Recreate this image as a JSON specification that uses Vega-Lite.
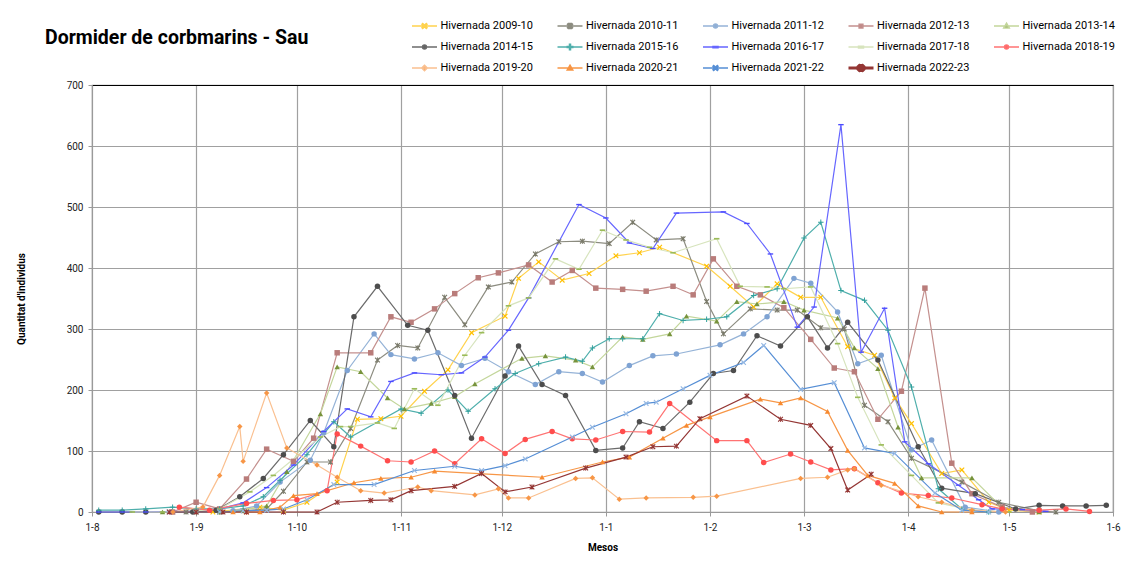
{
"$schema": "https://vega.github.io/schema/vega-lite/v6.json",
"width": 1021, "height": 427,
"autosize": {"type": "none"},
"padding": {"left": 92, "top": 85, "right": 12, "bottom": 51},
"background": "white",
"title": {"text": "Dormider de corbmarins - Sau", "anchor": "start", "frame": "group", "dx": -47, "offset": 0, "dy": 45, "font": "Roboto", "fontSize": 19.5, "fontWeight": "bold", "color": "#000", "baseline": "alphabetic"},
"config": {
  "view": {"stroke": "#9a9a9a", "strokeWidth": 1.2},
  "axis": {"gridColor": "#a0a0a0", "gridWidth": 1.2, "domainColor": "#9a9a9a", "tickColor": "#9a9a9a", "labelFont": "Roboto", "labelFontSize": 10, "labelColor": "#222", "titleFont": "Roboto", "titleFontSize": 10, "titleFontWeight": "bold", "titleColor": "#000"}
},
"data": {"values": [
{"s":"2009-10","d":"2000-09-06","v":0},{"s":"2009-10","d":"2000-09-20","v":8},{"s":"2009-10","d":"2000-09-27","v":3},{"s":"2009-10","d":"2000-10-04","v":16},{"s":"2009-10","d":"2000-10-13","v":49},{"s":"2009-10","d":"2000-10-19","v":152},{"s":"2009-10","d":"2000-10-26","v":153},{"s":"2009-10","d":"2000-11-01","v":157},{"s":"2009-10","d":"2000-11-08","v":198},{"s":"2009-10","d":"2000-11-15","v":233},{"s":"2009-10","d":"2000-11-22","v":294},{"s":"2009-10","d":"2000-12-02","v":321},{"s":"2009-10","d":"2000-12-06","v":383},{"s":"2009-10","d":"2000-12-12","v":410},{"s":"2009-10","d":"2000-12-19","v":380},{"s":"2009-10","d":"2000-12-27","v":391},{"s":"2009-10","d":"2001-01-04","v":420},{"s":"2009-10","d":"2001-01-11","v":425},{"s":"2009-10","d":"2001-01-17","v":434},{"s":"2009-10","d":"2001-01-31","v":403},{"s":"2009-10","d":"2001-02-07","v":370},{"s":"2009-10","d":"2001-02-14","v":336},{"s":"2009-10","d":"2001-02-21","v":374},{"s":"2009-10","d":"2001-02-28","v":352},{"s":"2009-10","d":"2001-03-06","v":352},{"s":"2009-10","d":"2001-03-14","v":271},{"s":"2009-10","d":"2001-03-22","v":257},{"s":"2009-10","d":"2001-03-28","v":187},{"s":"2009-10","d":"2001-04-02","v":145},{"s":"2009-10","d":"2001-04-11","v":63},{"s":"2009-10","d":"2001-04-17","v":69},{"s":"2009-10","d":"2001-04-25","v":16},{"s":"2009-10","d":"2001-05-01","v":3},{"s":"2009-10","d":"2001-05-10","v":0},
{"s":"2010-11","d":"2000-08-29","v":0},{"s":"2010-11","d":"2000-09-08","v":0},{"s":"2010-11","d":"2000-09-15","v":2},{"s":"2010-11","d":"2000-09-22","v":5},{"s":"2010-11","d":"2000-09-27","v":34},{"s":"2010-11","d":"2000-10-04","v":82},{"s":"2010-11","d":"2000-10-11","v":82},{"s":"2010-11","d":"2000-10-17","v":137},{"s":"2010-11","d":"2000-10-25","v":249},{"s":"2010-11","d":"2000-10-31","v":273},{"s":"2010-11","d":"2000-11-06","v":269},{"s":"2010-11","d":"2000-11-14","v":352},{"s":"2010-11","d":"2000-11-20","v":307},{"s":"2010-11","d":"2000-11-27","v":369},{"s":"2010-11","d":"2000-12-04","v":377},{"s":"2010-11","d":"2000-12-11","v":423},{"s":"2010-11","d":"2000-12-18","v":443},{"s":"2010-11","d":"2000-12-25","v":444},{"s":"2010-11","d":"2001-01-02","v":440},{"s":"2010-11","d":"2001-01-09","v":475},{"s":"2010-11","d":"2001-01-16","v":446},{"s":"2010-11","d":"2001-01-24","v":448},{"s":"2010-11","d":"2001-01-31","v":345},{"s":"2010-11","d":"2001-02-05","v":292},{"s":"2010-11","d":"2001-02-13","v":333},{"s":"2010-11","d":"2001-02-21","v":331},{"s":"2010-11","d":"2001-02-27","v":331},{"s":"2010-11","d":"2001-03-06","v":302},{"s":"2010-11","d":"2001-03-13","v":300},{"s":"2010-11","d":"2001-03-19","v":175},{"s":"2010-11","d":"2001-03-26","v":148},{"s":"2010-11","d":"2001-04-02","v":88},{"s":"2010-11","d":"2001-04-17","v":49},{"s":"2010-11","d":"2001-04-28","v":16},{"s":"2010-11","d":"2001-05-10","v":2},{"s":"2010-11","d":"2001-05-15","v":0},
{"s":"2011-12","d":"2000-09-12","v":2},{"s":"2011-12","d":"2000-09-19","v":10},{"s":"2011-12","d":"2000-09-26","v":49},{"s":"2011-12","d":"2000-10-05","v":85},{"s":"2011-12","d":"2000-10-09","v":130},{"s":"2011-12","d":"2000-10-16","v":232},{"s":"2011-12","d":"2000-10-24","v":292},{"s":"2011-12","d":"2000-10-29","v":258},{"s":"2011-12","d":"2000-11-05","v":251},{"s":"2011-12","d":"2000-11-12","v":261},{"s":"2011-12","d":"2000-11-19","v":240},{"s":"2011-12","d":"2000-11-26","v":252},{"s":"2011-12","d":"2000-12-03","v":230},{"s":"2011-12","d":"2000-12-11","v":209},{"s":"2011-12","d":"2000-12-18","v":230},{"s":"2011-12","d":"2000-12-25","v":227},{"s":"2011-12","d":"2000-12-31","v":213},{"s":"2011-12","d":"2001-01-08","v":240},{"s":"2011-12","d":"2001-01-15","v":256},{"s":"2011-12","d":"2001-01-22","v":259},{"s":"2011-12","d":"2001-02-04","v":274},{"s":"2011-12","d":"2001-02-11","v":292},{"s":"2011-12","d":"2001-02-18","v":320},{"s":"2011-12","d":"2001-02-26","v":383},{"s":"2011-12","d":"2001-03-03","v":375},{"s":"2011-12","d":"2001-03-11","v":328},{"s":"2011-12","d":"2001-03-17","v":243},{"s":"2011-12","d":"2001-03-24","v":257},{"s":"2011-12","d":"2001-04-02","v":102},{"s":"2011-12","d":"2001-04-08","v":118},{"s":"2011-12","d":"2001-04-18","v":8},{"s":"2011-12","d":"2001-04-28","v":0},
{"s":"2012-13","d":"2000-08-25","v":0},{"s":"2012-13","d":"2000-09-01","v":16},{"s":"2012-13","d":"2000-09-08","v":5},{"s":"2012-13","d":"2000-09-16","v":54},{"s":"2012-13","d":"2000-09-22","v":103},{"s":"2012-13","d":"2000-09-30","v":83},{"s":"2012-13","d":"2000-10-06","v":121},{"s":"2012-13","d":"2000-10-13","v":261},{"s":"2012-13","d":"2000-10-23","v":261},{"s":"2012-13","d":"2000-10-29","v":320},{"s":"2012-13","d":"2000-11-04","v":311},{"s":"2012-13","d":"2000-11-11","v":333},{"s":"2012-13","d":"2000-11-17","v":358},{"s":"2012-13","d":"2000-11-24","v":384},{"s":"2012-13","d":"2000-11-30","v":392},{"s":"2012-13","d":"2000-12-09","v":405},{"s":"2012-13","d":"2000-12-16","v":377},{"s":"2012-13","d":"2000-12-22","v":396},{"s":"2012-13","d":"2000-12-29","v":367},{"s":"2012-13","d":"2001-01-06","v":365},{"s":"2012-13","d":"2001-01-13","v":362},{"s":"2012-13","d":"2001-01-21","v":370},{"s":"2012-13","d":"2001-01-27","v":356},{"s":"2012-13","d":"2001-02-02","v":415},{"s":"2012-13","d":"2001-02-09","v":370},{"s":"2012-13","d":"2001-02-16","v":356},{"s":"2012-13","d":"2001-02-23","v":335},{"s":"2012-13","d":"2001-03-03","v":283},{"s":"2012-13","d":"2001-03-10","v":236},{"s":"2012-13","d":"2001-03-16","v":230},{"s":"2012-13","d":"2001-03-23","v":152},{"s":"2012-13","d":"2001-03-30","v":198},{"s":"2012-13","d":"2001-04-06","v":367},{"s":"2012-13","d":"2001-04-14","v":80},{"s":"2012-13","d":"2001-04-20","v":30},{"s":"2012-13","d":"2001-04-29","v":8},{"s":"2012-13","d":"2001-05-08","v":0},
{"s":"2013-14","d":"2000-08-22","v":0},{"s":"2013-14","d":"2000-09-01","v":0},{"s":"2013-14","d":"2000-09-08","v":0},{"s":"2013-14","d":"2000-09-15","v":3},{"s":"2013-14","d":"2000-09-22","v":10},{"s":"2013-14","d":"2000-09-28","v":66},{"s":"2013-14","d":"2000-10-08","v":161},{"s":"2013-14","d":"2000-10-13","v":238},{"s":"2013-14","d":"2000-10-20","v":230},{"s":"2013-14","d":"2000-10-28","v":187},{"s":"2013-14","d":"2000-11-02","v":169},{"s":"2013-14","d":"2000-11-10","v":178},{"s":"2013-14","d":"2000-11-17","v":189},{"s":"2013-14","d":"2000-11-23","v":210},{"s":"2013-14","d":"2000-12-07","v":252},{"s":"2013-14","d":"2000-12-14","v":256},{"s":"2013-14","d":"2000-12-23","v":249},{"s":"2013-14","d":"2000-12-28","v":238},{"s":"2013-14","d":"2001-01-06","v":287},{"s":"2013-14","d":"2001-01-12","v":283},{"s":"2013-14","d":"2001-01-20","v":292},{"s":"2013-14","d":"2001-01-25","v":321},{"s":"2013-14","d":"2001-02-03","v":313},{"s":"2013-14","d":"2001-02-09","v":345},{"s":"2013-14","d":"2001-02-15","v":341},{"s":"2013-14","d":"2001-02-23","v":345},{"s":"2013-14","d":"2001-03-01","v":331},{"s":"2013-14","d":"2001-03-11","v":318},{"s":"2013-14","d":"2001-03-16","v":269},{"s":"2013-14","d":"2001-03-23","v":235},{"s":"2013-14","d":"2001-03-29","v":139},{"s":"2013-14","d":"2001-04-05","v":56},{"s":"2013-14","d":"2001-04-20","v":56},{"s":"2013-14","d":"2001-04-29","v":7},{"s":"2013-14","d":"2001-05-10","v":0},
{"s":"2014-15","d":"2000-08-03","v":0},{"s":"2014-15","d":"2000-08-10","v":0},{"s":"2014-15","d":"2000-08-17","v":0},{"s":"2014-15","d":"2000-08-31","v":0},{"s":"2014-15","d":"2000-09-07","v":3},{"s":"2014-15","d":"2000-09-14","v":25},{"s":"2014-15","d":"2000-09-21","v":55},{"s":"2014-15","d":"2000-09-27","v":94},{"s":"2014-15","d":"2000-10-05","v":150},{"s":"2014-15","d":"2000-10-12","v":107},{"s":"2014-15","d":"2000-10-18","v":320},{"s":"2014-15","d":"2000-10-25","v":370},{"s":"2014-15","d":"2000-11-03","v":306},{"s":"2014-15","d":"2000-11-09","v":298},{"s":"2014-15","d":"2000-11-17","v":191},{"s":"2014-15","d":"2000-11-22","v":121},{"s":"2014-15","d":"2000-12-02","v":223},{"s":"2014-15","d":"2000-12-06","v":272},{"s":"2014-15","d":"2000-12-13","v":209},{"s":"2014-15","d":"2000-12-20","v":191},{"s":"2014-15","d":"2000-12-29","v":101},{"s":"2014-15","d":"2001-01-06","v":105},{"s":"2014-15","d":"2001-01-11","v":148},{"s":"2014-15","d":"2001-01-18","v":137},{"s":"2014-15","d":"2001-01-26","v":180},{"s":"2014-15","d":"2001-02-02","v":227},{"s":"2014-15","d":"2001-02-08","v":232},{"s":"2014-15","d":"2001-02-15","v":289},{"s":"2014-15","d":"2001-02-22","v":272},{"s":"2014-15","d":"2001-03-02","v":320},{"s":"2014-15","d":"2001-03-08","v":269},{"s":"2014-15","d":"2001-03-14","v":311},{"s":"2014-15","d":"2001-03-23","v":249},{"s":"2014-15","d":"2001-04-04","v":107},{"s":"2014-15","d":"2001-04-11","v":39},{"s":"2014-15","d":"2001-04-21","v":30},{"s":"2014-15","d":"2001-05-03","v":5},{"s":"2014-15","d":"2001-05-10","v":11},{"s":"2014-15","d":"2001-05-17","v":10},{"s":"2014-15","d":"2001-05-24","v":10},{"s":"2014-15","d":"2001-05-30","v":11},
{"s":"2015-16","d":"2000-08-03","v":3},{"s":"2015-16","d":"2000-08-10","v":3},{"s":"2015-16","d":"2000-08-17","v":5},{"s":"2015-16","d":"2000-08-25","v":8},{"s":"2015-16","d":"2000-09-01","v":5},{"s":"2015-16","d":"2000-09-08","v":5},{"s":"2015-16","d":"2000-09-15","v":10},{"s":"2015-16","d":"2000-09-21","v":25},{"s":"2015-16","d":"2000-09-26","v":52},{"s":"2015-16","d":"2000-10-04","v":94},{"s":"2015-16","d":"2000-10-12","v":148},{"s":"2015-16","d":"2000-10-17","v":123},{"s":"2015-16","d":"2000-11-01","v":169},{"s":"2015-16","d":"2000-11-07","v":162},{"s":"2015-16","d":"2000-11-15","v":200},{"s":"2015-16","d":"2000-11-21","v":165},{"s":"2015-16","d":"2000-11-29","v":202},{"s":"2015-16","d":"2000-12-05","v":227},{"s":"2015-16","d":"2000-12-12","v":243},{"s":"2015-16","d":"2000-12-20","v":254},{"s":"2015-16","d":"2000-12-25","v":247},{"s":"2015-16","d":"2000-12-28","v":269},{"s":"2015-16","d":"2001-01-02","v":284},{"s":"2015-16","d":"2001-01-06","v":284},{"s":"2015-16","d":"2001-01-12","v":284},{"s":"2015-16","d":"2001-01-17","v":325},{"s":"2015-16","d":"2001-01-24","v":314},{"s":"2015-16","d":"2001-01-31","v":316},{"s":"2015-16","d":"2001-02-06","v":320},{"s":"2015-16","d":"2001-02-14","v":355},{"s":"2015-16","d":"2001-02-21","v":366},{"s":"2015-16","d":"2001-03-01","v":449},{"s":"2015-16","d":"2001-03-06","v":475},{"s":"2015-16","d":"2001-03-12","v":363},{"s":"2015-16","d":"2001-03-19","v":347},{"s":"2015-16","d":"2001-03-26","v":298},{"s":"2015-16","d":"2001-04-02","v":205},{"s":"2015-16","d":"2001-04-10","v":38},{"s":"2015-16","d":"2001-04-17","v":5},{"s":"2015-16","d":"2001-04-25","v":0},
{"s":"2016-17","d":"2000-08-03","v":0},{"s":"2016-17","d":"2000-08-10","v":0},{"s":"2016-17","d":"2000-08-17","v":0},{"s":"2016-17","d":"2000-09-01","v":2},{"s":"2016-17","d":"2000-09-08","v":5},{"s":"2016-17","d":"2000-09-15","v":15},{"s":"2016-17","d":"2000-09-22","v":40},{"s":"2016-17","d":"2000-09-30","v":77},{"s":"2016-17","d":"2000-10-09","v":132},{"s":"2016-17","d":"2000-10-16","v":169},{"s":"2016-17","d":"2000-10-23","v":156},{"s":"2016-17","d":"2000-10-29","v":214},{"s":"2016-17","d":"2000-11-05","v":228},{"s":"2016-17","d":"2000-11-13","v":225},{"s":"2016-17","d":"2000-11-19","v":228},{"s":"2016-17","d":"2000-11-26","v":254},{"s":"2016-17","d":"2000-12-03","v":298},{"s":"2016-17","d":"2000-12-09","v":351},{"s":"2016-17","d":"2000-12-24","v":504},{"s":"2016-17","d":"2001-01-01","v":482},{"s":"2016-17","d":"2001-01-08","v":441},{"s":"2016-17","d":"2001-01-15","v":432},{"s":"2016-17","d":"2001-01-22","v":490},{"s":"2016-17","d":"2001-02-05","v":492},{"s":"2016-17","d":"2001-02-12","v":473},{"s":"2016-17","d":"2001-02-19","v":423},{"s":"2016-17","d":"2001-02-27","v":303},{"s":"2016-17","d":"2001-03-04","v":336},{"s":"2016-17","d":"2001-03-12","v":635},{"s":"2016-17","d":"2001-03-18","v":262},{"s":"2016-17","d":"2001-03-25","v":334},{"s":"2016-17","d":"2001-03-31","v":115},{"s":"2016-17","d":"2001-04-07","v":79},{"s":"2016-17","d":"2001-04-16","v":44},{"s":"2016-17","d":"2001-04-22","v":20},{"s":"2016-17","d":"2001-04-26","v":5},{"s":"2016-17","d":"2001-05-05","v":4},{"s":"2016-17","d":"2001-05-12","v":1},
{"s":"2017-18","d":"2000-08-13","v":0},{"s":"2017-18","d":"2000-08-22","v":0},{"s":"2017-18","d":"2000-09-01","v":2},{"s":"2017-18","d":"2000-09-08","v":5},{"s":"2017-18","d":"2000-09-17","v":33},{"s":"2017-18","d":"2000-09-24","v":60},{"s":"2017-18","d":"2000-10-08","v":123},{"s":"2017-18","d":"2000-10-14","v":140},{"s":"2017-18","d":"2000-10-17","v":140},{"s":"2017-18","d":"2000-10-25","v":146},{"s":"2017-18","d":"2000-10-30","v":137},{"s":"2017-18","d":"2000-11-05","v":202},{"s":"2017-18","d":"2000-11-12","v":175},{"s":"2017-18","d":"2000-11-20","v":257},{"s":"2017-18","d":"2000-11-25","v":294},{"s":"2017-18","d":"2000-12-03","v":338},{"s":"2017-18","d":"2000-12-09","v":351},{"s":"2017-18","d":"2000-12-17","v":415},{"s":"2017-18","d":"2000-12-24","v":398},{"s":"2017-18","d":"2000-12-31","v":462},{"s":"2017-18","d":"2001-01-07","v":446},{"s":"2017-18","d":"2001-01-14","v":434},{"s":"2017-18","d":"2001-01-21","v":425},{"s":"2017-18","d":"2001-02-03","v":448},{"s":"2017-18","d":"2001-02-10","v":370},{"s":"2017-18","d":"2001-02-18","v":369},{"s":"2017-18","d":"2001-02-23","v":366},{"s":"2017-18","d":"2001-03-03","v":369},{"s":"2017-18","d":"2001-03-11","v":276},{"s":"2017-18","d":"2001-03-17","v":188},{"s":"2017-18","d":"2001-03-24","v":110},{"s":"2017-18","d":"2001-04-02","v":60},{"s":"2017-18","d":"2001-04-10","v":15},{"s":"2017-18","d":"2001-04-20","v":3},{"s":"2017-18","d":"2001-05-01","v":0},
{"s":"2018-19","d":"2000-08-27","v":8},{"s":"2018-19","d":"2000-09-05","v":3},{"s":"2018-19","d":"2000-09-16","v":14},{"s":"2018-19","d":"2000-09-24","v":19},{"s":"2018-19","d":"2000-10-01","v":20},{"s":"2018-19","d":"2000-10-10","v":35},{"s":"2018-19","d":"2000-10-13","v":128},{"s":"2018-19","d":"2000-10-20","v":108},{"s":"2018-19","d":"2000-10-28","v":84},{"s":"2018-19","d":"2000-11-04","v":82},{"s":"2018-19","d":"2000-11-11","v":100},{"s":"2018-19","d":"2000-11-17","v":79},{"s":"2018-19","d":"2000-11-25","v":120},{"s":"2018-19","d":"2000-12-02","v":96},{"s":"2018-19","d":"2000-12-08","v":119},{"s":"2018-19","d":"2000-12-16","v":132},{"s":"2018-19","d":"2000-12-22","v":120},{"s":"2018-19","d":"2000-12-29","v":118},{"s":"2018-19","d":"2001-01-06","v":132},{"s":"2018-19","d":"2001-01-14","v":131},{"s":"2018-19","d":"2001-01-20","v":178},{"s":"2018-19","d":"2001-02-03","v":117},{"s":"2018-19","d":"2001-02-12","v":117},{"s":"2018-19","d":"2001-02-17","v":81},{"s":"2018-19","d":"2001-02-25","v":95},{"s":"2018-19","d":"2001-03-03","v":82},{"s":"2018-19","d":"2001-03-09","v":69},{"s":"2018-19","d":"2001-03-16","v":71},{"s":"2018-19","d":"2001-03-23","v":48},{"s":"2018-19","d":"2001-03-30","v":31},{"s":"2018-19","d":"2001-04-07","v":27},{"s":"2018-19","d":"2001-04-14","v":23},{"s":"2018-19","d":"2001-04-23","v":12},{"s":"2018-19","d":"2001-04-29","v":5},{"s":"2018-19","d":"2001-05-10","v":3},{"s":"2018-19","d":"2001-05-18","v":5},{"s":"2018-19","d":"2001-05-25","v":1},
{"s":"2019-20","d":"2000-08-25","v":0},{"s":"2019-20","d":"2000-09-03","v":8},{"s":"2019-20","d":"2000-09-08","v":60},{"s":"2019-20","d":"2000-09-14","v":140},{"s":"2019-20","d":"2000-09-15","v":83},{"s":"2019-20","d":"2000-09-22","v":195},{"s":"2019-20","d":"2000-09-28","v":105},{"s":"2019-20","d":"2000-10-07","v":77},{"s":"2019-20","d":"2000-10-13","v":57},{"s":"2019-20","d":"2000-10-20","v":35},{"s":"2019-20","d":"2000-10-27","v":31},{"s":"2019-20","d":"2000-11-06","v":41},{"s":"2019-20","d":"2000-11-10","v":35},{"s":"2019-20","d":"2000-11-23","v":28},{"s":"2019-20","d":"2000-11-30","v":38},{"s":"2019-20","d":"2000-12-03","v":23},{"s":"2019-20","d":"2000-12-09","v":23},{"s":"2019-20","d":"2000-12-23","v":55},{"s":"2019-20","d":"2000-12-28","v":56},{"s":"2019-20","d":"2001-01-05","v":21},{"s":"2019-20","d":"2001-01-13","v":23},{"s":"2019-20","d":"2001-01-27","v":24},{"s":"2019-20","d":"2001-02-03","v":26},{"s":"2019-20","d":"2001-02-28","v":55},{"s":"2019-20","d":"2001-03-08","v":57},{"s":"2019-20","d":"2001-03-14","v":69},{"s":"2019-20","d":"2001-03-16","v":71},{"s":"2019-20","d":"2001-03-24","v":44},{"s":"2019-20","d":"2001-04-04","v":25},{"s":"2019-20","d":"2001-04-11","v":16},{"s":"2019-20","d":"2001-04-20","v":3},{"s":"2019-20","d":"2001-04-30","v":0},
{"s":"2020-21","d":"2000-09-12","v":0},{"s":"2020-21","d":"2000-09-16","v":0},{"s":"2020-21","d":"2000-09-20","v":0},{"s":"2020-21","d":"2000-09-26","v":8},{"s":"2020-21","d":"2000-09-30","v":27},{"s":"2020-21","d":"2000-10-07","v":30},{"s":"2020-21","d":"2000-10-18","v":48},{"s":"2020-21","d":"2000-10-26","v":55},{"s":"2020-21","d":"2000-11-04","v":57},{"s":"2020-21","d":"2000-11-11","v":67},{"s":"2020-21","d":"2000-12-13","v":57},{"s":"2020-21","d":"2000-12-31","v":82},{"s":"2020-21","d":"2001-01-08","v":90},{"s":"2020-21","d":"2001-01-18","v":121},{"s":"2020-21","d":"2001-01-25","v":142},{"s":"2020-21","d":"2001-02-01","v":156},{"s":"2020-21","d":"2001-02-16","v":185},{"s":"2020-21","d":"2001-02-22","v":179},{"s":"2020-21","d":"2001-02-28","v":187},{"s":"2020-21","d":"2001-03-08","v":165},{"s":"2020-21","d":"2001-03-14","v":101},{"s":"2020-21","d":"2001-03-20","v":60},{"s":"2020-21","d":"2001-03-28","v":47},{"s":"2020-21","d":"2001-04-04","v":10},{"s":"2020-21","d":"2001-04-11","v":0},{"s":"2020-21","d":"2001-04-20","v":0},
{"s":"2021-22","d":"2000-08-24","v":0},{"s":"2021-22","d":"2000-09-01","v":0},{"s":"2021-22","d":"2000-09-08","v":0},{"s":"2021-22","d":"2000-09-15","v":2},{"s":"2021-22","d":"2000-09-22","v":3},{"s":"2021-22","d":"2000-09-27","v":5},{"s":"2021-22","d":"2000-10-04","v":20},{"s":"2021-22","d":"2000-10-12","v":45},{"s":"2021-22","d":"2000-10-24","v":45},{"s":"2021-22","d":"2000-11-05","v":68},{"s":"2021-22","d":"2000-11-17","v":75},{"s":"2021-22","d":"2000-11-25","v":68},{"s":"2021-22","d":"2000-12-02","v":76},{"s":"2021-22","d":"2000-12-08","v":87},{"s":"2021-22","d":"2000-12-22","v":123},{"s":"2021-22","d":"2000-12-28","v":139},{"s":"2021-22","d":"2001-01-07","v":161},{"s":"2021-22","d":"2001-01-13","v":178},{"s":"2021-22","d":"2001-01-16","v":180},{"s":"2021-22","d":"2001-01-24","v":202},{"s":"2021-22","d":"2001-02-01","v":224},{"s":"2021-22","d":"2001-02-11","v":245},{"s":"2021-22","d":"2001-02-17","v":273},{"s":"2021-22","d":"2001-02-28","v":201},{"s":"2021-22","d":"2001-03-10","v":212},{"s":"2021-22","d":"2001-03-19","v":105},{"s":"2021-22","d":"2001-03-28","v":96},{"s":"2021-22","d":"2001-04-09","v":31},{"s":"2021-22","d":"2001-04-17","v":3},{"s":"2021-22","d":"2001-04-25","v":0},
{"s":"2022-23","d":"2000-08-24","v":0},{"s":"2022-23","d":"2000-09-01","v":0},{"s":"2022-23","d":"2000-09-09","v":0},{"s":"2022-23","d":"2000-09-16","v":0},{"s":"2022-23","d":"2000-09-27","v":0},{"s":"2022-23","d":"2000-10-07","v":0},{"s":"2022-23","d":"2000-10-13","v":16},{"s":"2022-23","d":"2000-10-23","v":19},{"s":"2022-23","d":"2000-10-29","v":20},{"s":"2022-23","d":"2000-11-04","v":35},{"s":"2022-23","d":"2000-11-17","v":42},{"s":"2022-23","d":"2000-11-25","v":63},{"s":"2022-23","d":"2000-12-02","v":33},{"s":"2022-23","d":"2000-12-10","v":41},{"s":"2022-23","d":"2000-12-26","v":72},{"s":"2022-23","d":"2001-01-07","v":90},{"s":"2022-23","d":"2001-01-15","v":107},{"s":"2022-23","d":"2001-01-22","v":108},{"s":"2022-23","d":"2001-01-29","v":153},{"s":"2022-23","d":"2001-02-12","v":190},{"s":"2022-23","d":"2001-02-22","v":152},{"s":"2022-23","d":"2001-03-03","v":142},{"s":"2022-23","d":"2001-03-09","v":104},{"s":"2022-23","d":"2001-03-14","v":36},{"s":"2022-23","d":"2001-03-21","v":62}
]},
"encoding": {
  "x": {"field": "d", "type": "temporal",
    "scale": {"type": "utc", "nice": false, "domain": [{"year": 2000, "month": 8, "date": 1, "utc": true}, {"year": 2001, "month": 6, "date": 1, "utc": true}]},
    "axis": {"values": [{"year":2000,"month":8,"date":1,"utc":true},{"year":2000,"month":9,"date":1,"utc":true},{"year":2000,"month":10,"date":1,"utc":true},{"year":2000,"month":11,"date":1,"utc":true},{"year":2000,"month":12,"date":1,"utc":true},{"year":2001,"month":1,"date":1,"utc":true},{"year":2001,"month":2,"date":1,"utc":true},{"year":2001,"month":3,"date":1,"utc":true},{"year":2001,"month":4,"date":1,"utc":true},{"year":2001,"month":5,"date":1,"utc":true},{"year":2001,"month":6,"date":1,"utc":true}],
      "labelExpr": "utcFormat(datum.value, '%-d-%-m')", "grid": true, "tickSize": 4, "labelPadding": 6, "labelOverlap": false, "labelFlush": false, "title": "Mesos", "titlePadding": 10}},
  "y": {"field": "v", "type": "quantitative", "scale": {"domain": [0, 700], "nice": false},
    "axis": {"values": [0,100,200,300,400,500,600,700], "grid": true, "gridColor": {"condition": {"test": "datum.value === 700", "value": "#000000"}, "value": "#a0a0a0"}, "tickSize": 4, "labelPadding": 5, "title": "Quantitat d'individus", "titlePadding": 40}}
},
"layer": [
 {"mark": {"type": "line", "strokeWidth": 1.2},
  "encoding": {
   "stroke": {"field": "s", "type": "nominal",
     "scale": {"domain": ["2009-10","2010-11","2011-12","2012-13","2013-14","2014-15","2015-16","2016-17","2017-18","2018-19","2019-20","2020-21","2021-22","2022-23"],
               "range": ["#FFD24D","#8C8C80","#95B3D7","#C4908E","#C3D69B","#6B6B6B","#4FAFAC","#6666FF","#D7E4BD","#FF7373","#FAC090","#F79646","#558ED5","#943634"]},
     "legend": {"title": null, "orient": "none", "direction": "horizontal", "legendX": 318.5, "legendY": -67, "columns": 5, "padding": 0, "symbolType": "stroke", "symbolSize": 625, "symbolStrokeWidth": 1.5, "labelColor": "#000", "labelFont": "Roboto", "labelFontSize": 11, "columnPadding": 22.5, "rowPadding": 5, "clipHeight": 16, "labelExpr": "'Hivernada ' + datum.label",
       "encode": {"symbols": {"update": {
          "x": {"value": 14},
          "strokeWidth": {"signal": "datum.value === '2022-23' ? 3 : 1.5"},
          "fill": {"scale": "fill", "field": "value"},
          "fillOpacity": {"value": 1},
          "shape": {"signal": "['M-1,0H1M-0.2,-0.14L-0.14,-0.2L0,-0.06L0.14,-0.2L0.2,-0.14L0.06,0L0.2,0.14L0.14,0.2L0,0.06L-0.14,0.2L-0.2,0.14L-0.06,0Z','M-1,0H1M-0.2,-0.14L-0.14,-0.2L0,-0.06L0.14,-0.2L0.2,-0.14L0.06,0L0.2,0.14L0.14,0.2L0,0.06L-0.14,0.2L-0.2,0.14L-0.06,0ZM-0.03,-0.2H0.03V0.2H-0.03Z','M-1,0H1M0.16,0A0.16,0.16 0 1,1 -0.16,0A0.16,0.16 0 1,1 0.16,0Z','M-1,0H1M-0.15,-0.15H0.15V0.15H-0.15Z','M-1,0H1M0,-0.22L0.22,0.16H-0.22Z','M-1,0H1M0.16,0A0.16,0.16 0 1,1 -0.16,0A0.16,0.16 0 1,1 0.16,0Z','M-1,0H1M-0.22,-0.04H-0.04V-0.22H0.04V-0.04H0.22V0.04H0.04V0.22H-0.04V0.04H-0.22Z','M-1,0H1M-0.2,-0.05H0.2V0.05H-0.2Z','M-1,0H1M-0.2,-0.07H0.2V0.07H-0.2Z','M-1,0H1M0.16,0A0.16,0.16 0 1,1 -0.16,0A0.16,0.16 0 1,1 0.16,0Z','M-1,0H1M0,-0.22L0.22,0L0,0.22L-0.22,0Z','M-1,0H1M0,-0.22L0.22,0.16H-0.22Z','M-1,0H1M-0.2,-0.14L-0.14,-0.2L0,-0.06L0.14,-0.2L0.2,-0.14L0.06,0L0.2,0.14L0.14,0.2L0,0.06L-0.14,0.2L-0.2,0.14L-0.06,0Z','M-1,0H1M-0.2,-0.14L-0.14,-0.2L0,-0.06L0.14,-0.2L0.2,-0.14L0.06,0L0.2,0.14L0.14,0.2L0,0.06L-0.14,0.2L-0.2,0.14L-0.06,0ZM-0.03,-0.2H0.03V0.2H-0.03Z'][indexof(['2009-10','2010-11','2011-12','2012-13','2013-14','2014-15','2015-16','2016-17','2017-18','2018-19','2019-20','2020-21','2021-22','2022-23'], datum.value)]"}
       }}, "labels": {"update": {"x": {"value": 30}}}}}},
   "strokeWidth": {"condition": {"test": "datum.s === '2022-23'", "value": 3}, "value": 1.2}
  }},
 {"mark": {"type": "point", "filled": true, "size": 30, "opacity": 1, "strokeWidth": 0},
  "encoding": {
   "fill": {"field": "s", "type": "nominal",
     "scale": {"range": ["#FFC000","#7A7A6A","#7FA3D3","#B97C7A","#77933C","#4D4D4D","#31A09C","#4B4BFF","#9BBB59","#FF4D4D","#F79646","#F78A30","#95B8E3","#943634"]},
     "legend": null},
   "shape": {"field": "s", "type": "nominal",
     "scale": {"range": ["M-1,-0.7L-0.7,-1L0,-0.3L0.7,-1L1,-0.7L0.3,0L1,0.7L0.7,1L0,0.3L-0.7,1L-1,0.7L-0.3,0Z","M-1,-0.7L-0.7,-1L0,-0.3L0.7,-1L1,-0.7L0.3,0L1,0.7L0.7,1L0,0.3L-0.7,1L-1,0.7L-0.3,0ZM-0.15,-1H0.15V1H-0.15Z","circle","square","triangle-up","circle","M-1,-0.18H-0.18V-1H0.18V-0.18H1V0.18H0.18V1H-0.18V0.18H-1Z","M-1,-0.25H1V0.25H-1Z","M-1,-0.3H1V0.3H-1Z","circle","diamond","triangle-up","M-1,-0.7L-0.7,-1L0,-0.3L0.7,-1L1,-0.7L0.3,0L1,0.7L0.7,1L0,0.3L-0.7,1L-1,0.7L-0.3,0Z","M-1,-0.7L-0.7,-1L0,-0.3L0.7,-1L1,-0.7L0.3,0L1,0.7L0.7,1L0,0.3L-0.7,1L-1,0.7L-0.3,0ZM-0.15,-1H0.15V1H-0.15Z"]},
     "legend": null}
  }}
]
}
